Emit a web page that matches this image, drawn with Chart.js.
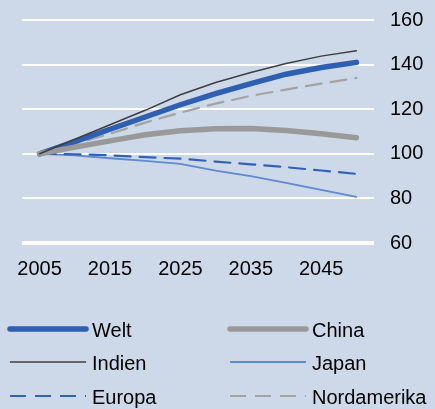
<!DOCTYPE html>
<html>
<head>
<meta charset="utf-8">
<script src="https://cdn.jsdelivr.net/npm/chart.js@4"></script>
<style>
html,body{margin:0;padding:0;background:#cdd8e9;}
#wrap{width:435px;height:409px;position:relative;}
</style>
</head>
<body>
<div id="wrap"><canvas id="c" width="435" height="409"></canvas></div>
<script>
// index 2005 = 100
const years=['2005','2010','2015','2020','2025','2030','2035','2040','2045','2050'];
const welt=[100,105.5,111,116.5,122,127,131.5,135.7,138.7,141];
const china=[100,103,105.8,108.5,110.3,111.2,111.3,110.4,109,107.2];
const indien=[100,106.5,113,119.5,126.5,132,136.5,140.5,143.8,146.2];
const japan=[100,99.3,98,96.8,95.5,92.5,90,87,83.8,80.7];
const europa=[100,99.8,99.3,98.5,97.8,96.5,95.3,94,92.5,91];
const nordamerika=[100,104.5,109,114,118.5,122.5,126,128.8,131.5,134];
const yMin=60, yMax=160, yStep=20;

const FONT='"Liberation Sans", Arial, sans-serif';

// legend in two columns under the plot
const legendCols=[{line:10,text:92},{line:230,text:312}];
const legendRows=[331,364,398];
const gridLegend={
  id:'gridLegend',
  afterDraw(chart){
    const ctx=chart.ctx;
    chart.data.datasets.forEach((ds,i)=>{
      const col=legendCols[i%2], y=legendRows[Math.floor(i/2)];
      ctx.save();
      ctx.strokeStyle=ds.borderColor;
      ctx.lineWidth=ds.borderWidth;
      ctx.setLineDash(ds.borderDash||[]);
      ctx.lineCap=ds.borderWidth>3?'round':'butt';
      ctx.beginPath();
      ctx.moveTo(col.line,y-2);
      ctx.lineTo(col.line+76,y-2);
      ctx.stroke();
      ctx.setLineDash([]);
      ctx.fillStyle='#000';
      ctx.font='20px '+FONT;
      ctx.textBaseline='middle';
      ctx.fillText(ds.label,col.text,y);
      ctx.restore();
    });
  }
};

const ds=(label,data,color,width,dash,order)=>({
  label,data,borderColor:color,backgroundColor:color,borderWidth:width,
  borderDash:dash,borderCapStyle:'round',pointRadius:0,tension:0,fill:false,order
});

new Chart(document.getElementById('c'),{
  type:'line',
  data:{
    labels:years,
    datasets:[
      ds('Welt',welt,'#2f5fb3',5.5,[],3),
      ds('China',china,'#999999',5.5,[],2),
      ds('Indien',indien,'#3f3f3f',1.5,[],1),
      ds('Japan',japan,'#6089cf',1.8,[],5),
      ds('Europa',europa,'#3063b5',2.2,[16,9],4),
      ds('Nordamerika',nordamerika,'#a3a3a3',2.2,[16,9],6)
    ]
  },
  options:{
    responsive:false,
    animation:false,
    devicePixelRatio:1,
    layout:{padding:{top:20,right:0,bottom:122,left:22}},
    plugins:{legend:{display:false},tooltip:{enabled:false}},
    scales:{
      x:{
        offset:true,
        grid:{display:false},
        border:{display:false},
        ticks:{
          autoSkip:false,maxRotation:0,padding:6,color:'#000',
          font:{family:FONT,size:20},
          callback:(v,i)=>i%2===0?years[i]:''
        }
      },
      y:{
        position:'right',
        min:yMin,max:yMax,
        border:{display:false},
        afterFit:s=>{s.width=61;s.paddingTop=0;s.paddingBottom=0;},
        grid:{
          color:'#ffffff',
          drawTicks:false,
          lineWidth:c=>c.tick&&c.tick.value===yMin?4:2
        },
        ticks:{stepSize:yStep,padding:16,color:'#000',font:{family:FONT,size:20}}
      }
    }
  },
  plugins:[gridLegend]
});
</script>
</body>
</html>
